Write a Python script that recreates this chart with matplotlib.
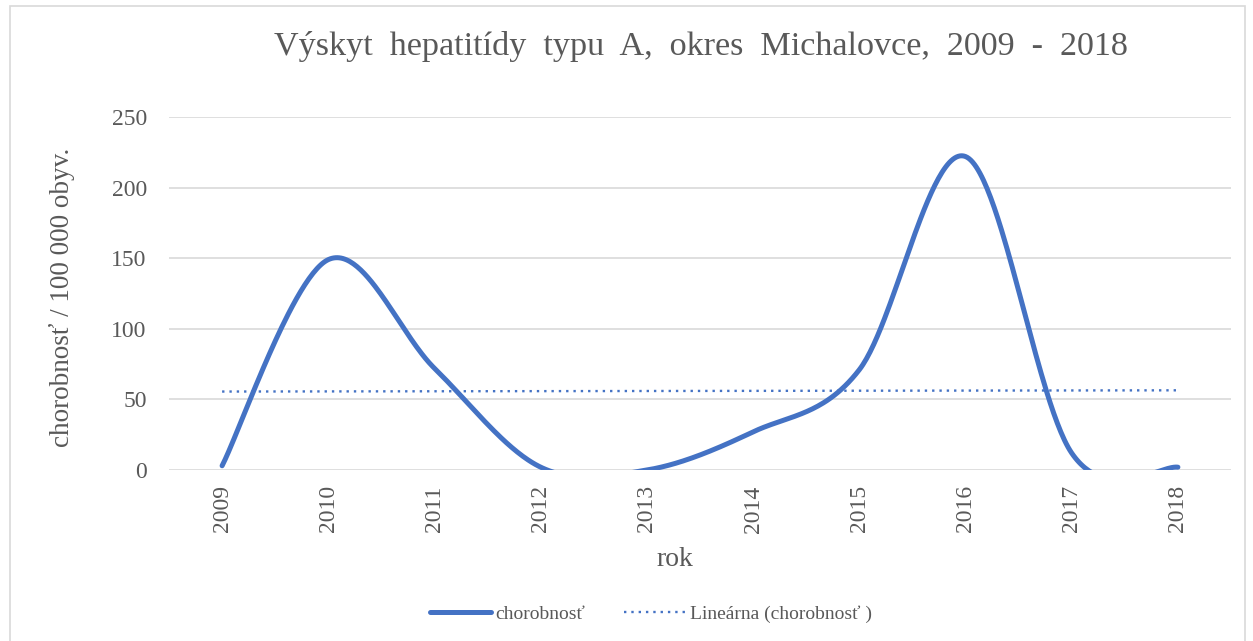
import numpy as np
import matplotlib
matplotlib.use('Agg')
import matplotlib.pyplot as plt
from matplotlib.patches import Rectangle

# Data
years = [2009, 2010, 2011, 2012, 2013, 2014, 2015, 2016, 2017, 2018]
values = [3, 149, 72, 2, 0, 27, 71, 222, 12, 2]
y_ticks = [0, 50, 100, 150, 200, 250]

blue = '#4472C4'
grey_text = '#595959'
plt.rcParams['font.family'] = ['Liberation Serif', 'DejaVu Serif']

W, H = 1253, 641


def smooth(x, y, n=60):
    # Catmull-Rom spline, like Excel's "smoothed line"
    x = np.asarray(x, float)
    y = np.asarray(y, float)
    px = np.concatenate([[x[0]], x, [x[-1]]])
    py = np.concatenate([[y[0]], y, [y[-1]]])
    xs, ys = [], []
    for i in range(1, len(px) - 2):
        t = np.linspace(0, 1, n)
        mx0, my0 = (px[i + 1] - px[i - 1]) / 2, (py[i + 1] - py[i - 1]) / 2
        mx1, my1 = (px[i + 2] - px[i]) / 2, (py[i + 2] - py[i]) / 2
        h00 = 2 * t**3 - 3 * t**2 + 1
        h10 = t**3 - 2 * t**2 + t
        h01 = -2 * t**3 + 3 * t**2
        h11 = t**3 - t**2
        xs.append(h00 * px[i] + h10 * mx0 + h01 * px[i + 1] + h11 * mx1)
        ys.append(h00 * py[i] + h10 * my0 + h01 * py[i + 1] + h11 * my1)
    return np.concatenate(xs), np.concatenate(ys)


fig = plt.figure(figsize=(W / 100, H / 100), dpi=100)
fig.patches.append(Rectangle((10 / W, -0.01), 1235 / W, 1.0, transform=fig.transFigure,
                             fill=False, edgecolor='#D9D9D9', linewidth=1.2))

ax = fig.add_axes([169 / W, 1 - 470 / H, 1062 / W, 353 / H])

sx, sy = smooth(years, values)
ax.plot(sx, sy, color=blue, linewidth=3.6, solid_capstyle='round', label='chorobnosť', zorder=3)

# linear trend
k, q = np.polyfit(years, values, 1)
tx = np.array([years[0], years[-1]])
ax.plot(tx, k * tx + q, color=blue, linewidth=1.7, linestyle=(0, (1, 2.1)),
        label='Lineárna (chorobnosť )', zorder=2)

ax.set_xlim(years[0] - 0.5, years[-1] + 0.5)
ax.set_ylim(0, 250)
ax.set_yticks(y_ticks)
ax.set_xticks(years)
ax.set_xticklabels([str(y) for y in years], rotation=90)
ax.grid(axis='y', color='#D9D9D9', linewidth=1.2)
ax.set_axisbelow(True)
for s in ax.spines.values():
    s.set_visible(False)
ax.tick_params(length=0, labelsize=17, labelcolor=grey_text)
ax.tick_params(axis='y', pad=16)
ax.tick_params(axis='x', pad=11)

fig.text(62 / W, 1 - 297 / H, 'chorobnosť / 100 000 obyv.', rotation=90,
         ha='center', va='center', fontsize=19.5, color=grey_text)
fig.text(675 / W, 1 - 560 / H, 'rok', ha='center', va='center', fontsize=20, color=grey_text)
fig.text(701 / W, 1 - 47 / H, 'Výskyt  hepatitídy  typu  A,  okres  Michalovce,  2009  -  2018',
         ha='center', va='center', fontsize=24.6, color=grey_text)

leg = ax.legend(loc='center', bbox_to_anchor=((651 - 169) / 1062, (470 - 614) / 353), ncol=2,
                frameon=False, fontsize=14, labelcolor=grey_text, handlelength=3.1,
                columnspacing=2.0, handletextpad=0.25)

fig.savefig('out.png', dpi=100)
